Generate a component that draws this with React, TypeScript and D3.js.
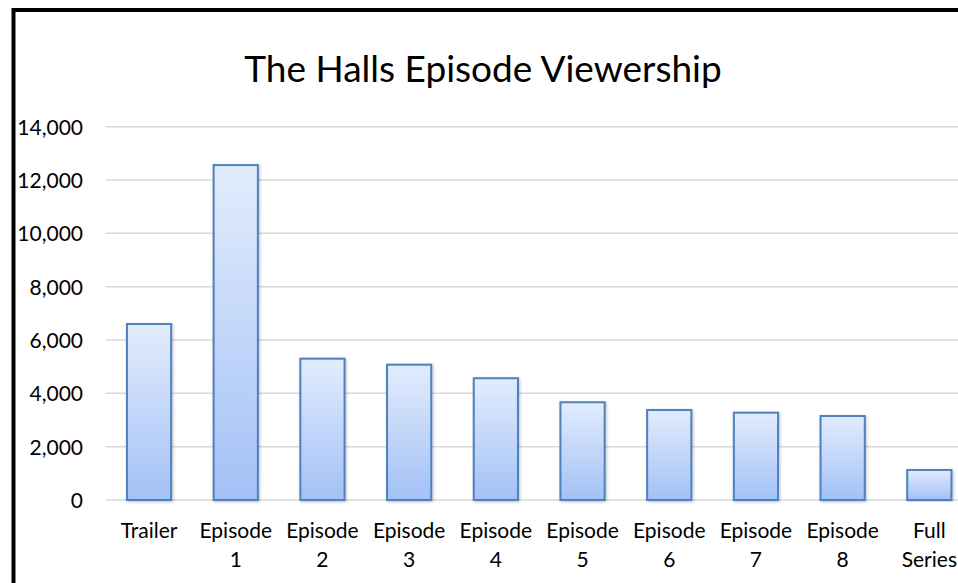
import React from "react";
import * as d3 from "d3";

const categories: string[][] = [
  ["Trailer"],
  ["Episode", "1"],
  ["Episode", "2"],
  ["Episode", "3"],
  ["Episode", "4"],
  ["Episode", "5"],
  ["Episode", "6"],
  ["Episode", "7"],
  ["Episode", "8"],
  ["Full", "Series"],
];
const views: number[] = [6600, 12560, 5300, 5075, 4565, 3665, 3375, 3275, 3150, 1125];
const yTicks: number[] = [0, 2000, 4000, 6000, 8000, 10000, 12000, 14000];
const title = "The Halls Episode Viewership";

export default function App() {
  const W = 958;
  const H = 583;
  const keys = categories.map((c) => c.join(" "));
  const x = d3
    .scaleBand<string>()
    .domain(keys)
    .range([105.7, 972.7])
    .paddingInner(0.49)
    .paddingOuter(0.245);
  const y = d3.scaleLinear().domain([0, 14000]).range([500, 126.7]);
  const fmt = d3.format(",");
  const font = "Lato, 'Open Sans', sans-serif";

  return (
    <svg
      width={W}
      height={H}
      style={{ position: "fixed", left: 0, top: 0, background: "#fff" }}
    >
      <defs>
        <linearGradient id="barGrad" x1="0" y1="0" x2="0" y2="1">
          <stop offset="0%" stopColor="#e2ecfd" />
          <stop offset="100%" stopColor="#a3c1f6" />
        </linearGradient>
        <filter id="shadow" x="-20%" y="-5%" width="140%" height="110%">
          <feDropShadow dx="1" dy="1" stdDeviation="1.5" floodColor="#000" floodOpacity="0.25" />
        </filter>
      </defs>
      <rect x={0} y={0} width={W} height={H} fill="#fff" />
      <rect x={13.5} y={10} width={W + 20} height={H + 20} fill="#fff" stroke="#000" strokeWidth={4} />
      <text x={483} y={82} textAnchor="middle" fontFamily={font} fontSize={37} fill="#000">
        {title}
      </text>
      {yTicks.map((t) => (
        <g key={t}>
          <line x1={105.7} x2={W} y1={y(t)} y2={y(t)} stroke="#d9d9d9" strokeWidth={1.5} />
          <text x={83} y={y(t) + 8} textAnchor="end" fontFamily={font} fontSize={21} fill="#000">
            {fmt(t)}
          </text>
        </g>
      ))}
      {views.map((v, i) => (
        <rect
          key={keys[i]}
          x={x(keys[i])!}
          y={y(v)}
          width={x.bandwidth()}
          height={y(0) - y(v)}
          fill="url(#barGrad)"
          stroke="#4f81bd"
          strokeWidth={2}
          filter="url(#shadow)"
        />
      ))}
      {categories.map((lines, i) => (
        <text
          key={keys[i]}
          x={x(keys[i])! + x.bandwidth() / 2}
          y={538}
          textAnchor="middle"
          fontFamily={font}
          fontSize={21}
          fill="#000"
        >
          {lines.map((l, j) => (
            <tspan key={j} x={x(keys[i])! + x.bandwidth() / 2} dy={j === 0 ? 0 : 29}>
              {l}
            </tspan>
          ))}
        </text>
      ))}
    </svg>
  );
}
